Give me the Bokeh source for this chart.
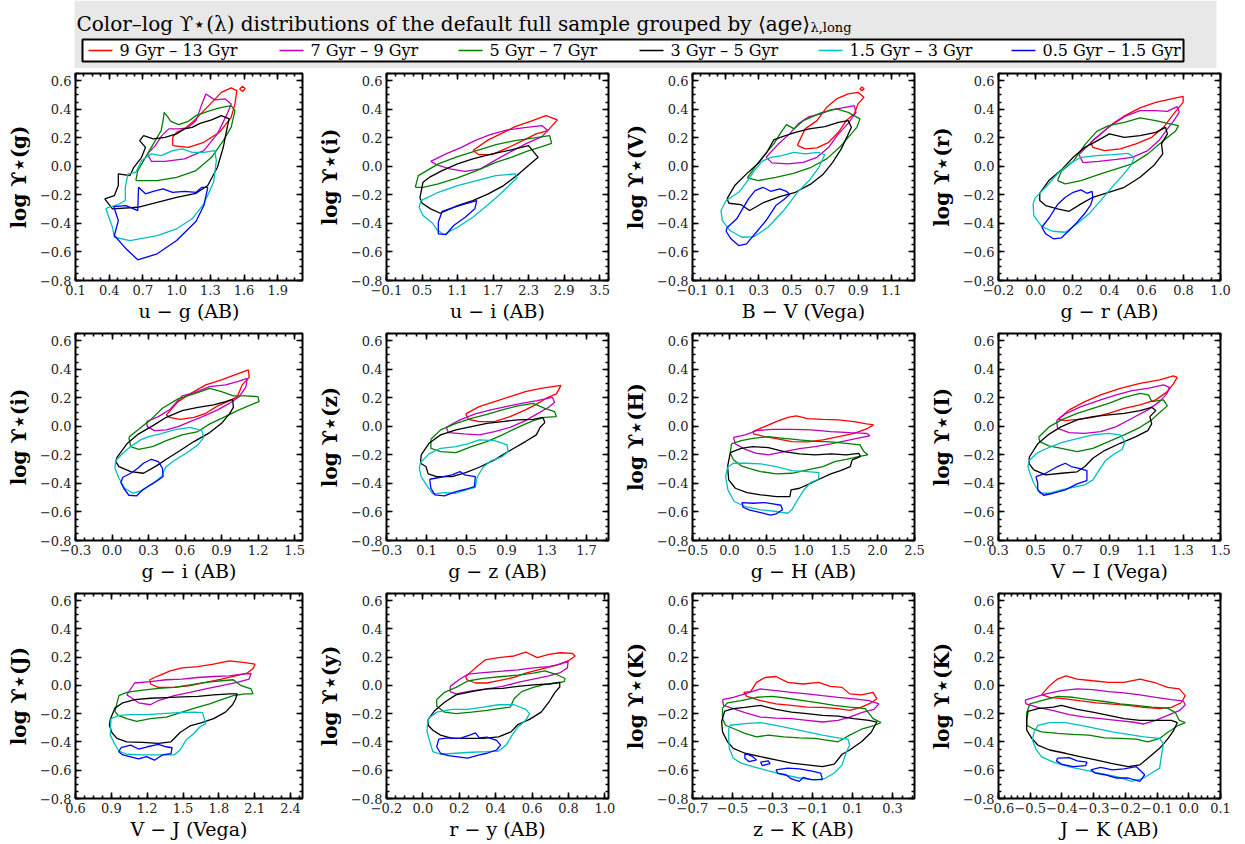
import numpy as np
from bokeh.plotting import figure
from bokeh.layouts import column, row
from bokeh.models import Range1d, FixedTicker, LinearAxis, CustomJSTickFormatter, ColumnDataSource
from bokeh.core.properties import value
from bokeh.embed import file_html
from bokeh.resources import INLINE

# ---------------- data ----------------
AGES = ["9 Gyr \u2013 13 Gyr", "7 Gyr \u2013 9 Gyr", "5 Gyr \u2013 7 Gyr",
        "3 Gyr \u2013 5 Gyr", "1.5 Gyr \u2013 3 Gyr", "0.5 Gyr \u2013 1.5 Gyr"]
COLORS = ["#ff0000", "#bf00bf", "#008000", "#000000", "#00bfbf", "#0000ff"]

TITLE_MAIN = "Color\u2013log \u03d2\u22c6(\u03bb) distributions of the default full sample grouped by \u27e8age\u27e9"
TITLE_SUB = "\u03bb,long"

Y_RANGE = (-0.8, 0.65)
Y_STEP = 0.2

PANEL_XLABELS = ["u \u2212 g (AB)", "u \u2212 i (AB)", "B \u2212 V (Vega)", "g \u2212 r (AB)",
                 "g \u2212 i (AB)", "g \u2212 z (AB)", "g \u2212 H (AB)", "V \u2212 I (Vega)",
                 "V \u2212 J (Vega)", "r \u2212 y (AB)", "z \u2212 K (AB)", "J \u2212 K (AB)"]
PANEL_BANDS = ["g", "i", "V", "r", "i", "z", "H", "I", "J", "y", "K", "K"]
PANEL_XRANGES = [(0.1, 2.12), (-0.1, 3.65), (-0.1, 1.24), (-0.2, 1.0),
                 (-0.3, 1.565), (-0.3, 1.92), (-0.5, 2.5), (0.3, 1.5),
                 (0.6, 2.5), (-0.2, 1.02), (-0.7, 0.41), (-0.6, 0.1)]
PANEL_XSTEPS = [0.3, 0.6, 0.2, 0.2, 0.3, 0.4, 0.5, 0.2, 0.3, 0.2, 0.2, 0.1]

# contours: one list per age group (same order as AGES), each a list of closed paths
C_UG = [
    [[(0.965,0.145),(1.104,0.133),(1.242,0.168),(1.381,0.238),(1.485,0.343),(1.519,0.437),(1.536,0.53),(1.485,0.549),(1.398,0.518),(1.329,0.46),(1.242,0.39),(1.156,0.32),(1.069,0.262),(1.0,0.238),(0.965,0.203)],
     [(1.56,0.54),(1.585,0.56),(1.61,0.545),(1.59,0.525)]],
    [[(0.74,0.087),(0.775,0.035),(0.896,0.035),(1.069,0.052),(1.242,0.11),(1.363,0.227),(1.45,0.367),(1.485,0.437),(1.433,0.472),(1.339,0.465),(1.26,0.507),(1.225,0.437),(1.173,0.32),(1.097,0.269),(1.017,0.262),(0.93,0.262),(0.868,0.215),(0.81,0.145)]],
    [[(0.637,-0.1),(0.827,-0.1),(1.0,-0.077),(1.173,-0.03),(1.311,0.063),(1.415,0.18),(1.485,0.273),(1.519,0.39),(1.485,0.425),(1.381,0.409),(1.277,0.385),(1.173,0.355),(1.104,0.315),(1.017,0.292),(0.948,0.315),(0.913,0.355),(0.889,0.378),(0.879,0.32),(0.862,0.25),(0.81,0.18),(0.758,0.11),(0.706,0.04),(0.654,-0.03)]],
    [[(0.36,-0.228),(0.429,-0.298),(0.654,-0.287),(0.827,-0.252),(1.0,-0.217),(1.173,-0.189),(1.277,-0.135),(1.363,-0.007),(1.415,0.133),(1.45,0.273),(1.467,0.332),(1.398,0.355),(1.311,0.325),(1.208,0.301),(1.138,0.273),(1.069,0.262),(1.0,0.227),(0.896,0.203),(0.792,0.192),(0.706,0.215),(0.671,0.18),(0.723,0.133),(0.688,0.063),(0.619,-0.007),(0.585,-0.065),(0.481,-0.053),(0.481,-0.135),(0.446,-0.205)]],
    [[(0.37,-0.298),(0.429,-0.427),(0.446,-0.497),(0.585,-0.52),(0.827,-0.485),(1.0,-0.438),(1.138,-0.368),(1.242,-0.263),(1.329,-0.112),(1.353,0.04),(1.339,0.11),(1.242,0.098),(1.138,0.098),(1.052,0.122),(0.965,0.11),(0.862,0.075),(0.775,0.087),(0.688,0.04),(0.637,-0.042),(0.567,-0.053),(0.543,-0.147),(0.543,-0.24),(0.481,-0.268),(0.394,-0.287)]],
    [[(0.44,-0.282),(0.481,-0.38),(0.446,-0.485),(0.55,-0.578),(0.654,-0.655),(0.827,-0.613),(1.0,-0.52),(1.173,-0.385),(1.242,-0.275),(1.277,-0.147),(1.225,-0.147),(1.173,-0.182),(1.069,-0.175),(0.965,-0.182),(0.879,-0.158),(0.792,-0.175),(0.723,-0.193),(0.661,-0.147),(0.654,-0.31),(0.55,-0.275)]],
]
C_UI = [
    [[(1.359,0.11),(1.619,0.185),(1.846,0.231),(2.072,0.278),(2.332,0.315),(2.591,0.355),(2.786,0.325),(2.624,0.25),(2.429,0.227),(2.202,0.18),(1.943,0.129),(1.683,0.082),(1.456,0.082)]],
    [[(0.646,0.035),(0.905,0.087),(1.165,0.133),(1.392,0.18),(1.651,0.222),(1.943,0.255),(2.267,0.273),(2.526,0.285),(2.624,0.25),(2.526,0.208),(2.267,0.161),(2.008,0.105),(1.748,0.045),(1.489,-0.018),(1.229,-0.035),(0.97,-0.018),(0.743,0.012)]],
    [[(0.386,-0.147),(0.438,-0.065),(0.581,-0.03),(0.775,0.017),(1.1,0.068),(1.424,0.11),(1.748,0.152),(2.072,0.18),(2.397,0.199),(2.656,0.215),(2.689,0.161),(2.526,0.138),(2.267,0.105),(2.008,0.063),(1.748,0.028),(1.424,-0.03),(1.1,-0.081),(0.775,-0.123),(0.516,-0.147)]],
    [[(0.464,-0.221),(0.516,-0.112),(0.646,-0.072),(0.84,-0.03),(1.1,0.017),(1.359,0.052),(1.683,0.087),(2.008,0.115),(2.3,0.145),(2.462,0.063),(2.332,0.017),(2.137,-0.053),(1.878,-0.135),(1.619,-0.193),(1.359,-0.24),(1.1,-0.275),(0.808,-0.329),(0.646,-0.298),(0.503,-0.259)]],
    [[(0.484,-0.24),(0.775,-0.182),(1.1,-0.135),(1.424,-0.1),(1.748,-0.065),(2.072,-0.053),(2.105,-0.081),(2.008,-0.119),(1.813,-0.198),(1.619,-0.268),(1.359,-0.357),(1.1,-0.427),(0.873,-0.478),(0.763,-0.45),(0.678,-0.399),(0.516,-0.345),(0.451,-0.287)]],
    [[(0.775,-0.392),(0.84,-0.315),(1.035,-0.287),(1.229,-0.263),(1.424,-0.24),(1.392,-0.298),(1.229,-0.357),(1.035,-0.415),(0.905,-0.478),(0.775,-0.473)]],
]
C_BV = [
    [[(0.533,0.147),(0.58,0.262),(0.651,0.32),(0.71,0.413),(0.769,0.472),(0.84,0.507),(0.899,0.518),(0.935,0.483),(0.899,0.437),(0.876,0.367),(0.828,0.32),(0.781,0.238),(0.722,0.168),(0.651,0.129),(0.58,0.122)],
     [(0.91,0.542),(0.923,0.556),(0.936,0.542),(0.923,0.53)]],
    [[(0.344,0.063),(0.415,0.152),(0.486,0.227),(0.538,0.297),(0.604,0.348),(0.675,0.367),(0.734,0.395),(0.805,0.409),(0.876,0.425),(0.887,0.378),(0.84,0.301),(0.781,0.227),(0.722,0.133),(0.651,0.063),(0.569,0.028),(0.474,0.017),(0.38,0.024)]],
    [[(0.231,-0.081),(0.273,-0.011),(0.325,0.068),(0.391,0.157),(0.434,0.238),(0.467,0.292),(0.514,0.262),(0.569,0.32),(0.675,0.374),(0.769,0.402),(0.84,0.378),(0.911,0.332),(0.892,0.273),(0.84,0.203),(0.788,0.133),(0.71,0.052),(0.616,-0.007),(0.509,-0.049),(0.403,-0.077),(0.297,-0.1)]],
    [[(0.108,-0.228),(0.155,-0.135),(0.226,-0.053),(0.297,0.021),(0.349,0.098),(0.391,0.185),(0.443,0.208),(0.521,0.238),(0.604,0.262),(0.699,0.278),(0.781,0.308),(0.84,0.32),(0.859,0.273),(0.836,0.215),(0.798,0.122),(0.746,0.028),(0.687,-0.058),(0.616,-0.123),(0.521,-0.182),(0.427,-0.212),(0.332,-0.252),(0.245,-0.31),(0.191,-0.268),(0.12,-0.259)]],
    [[(0.103,-0.24),(0.179,-0.182),(0.226,-0.112),(0.273,-0.03),(0.32,0.035),(0.372,0.063),(0.439,0.075),(0.51,0.098),(0.58,0.087),(0.656,0.098),(0.699,0.082),(0.663,-0.007),(0.604,-0.1),(0.533,-0.182),(0.45,-0.31),(0.356,-0.427),(0.273,-0.492),(0.198,-0.497),(0.127,-0.45),(0.08,-0.38),(0.072,-0.31)]],
    [[(0.108,-0.431),(0.167,-0.368),(0.202,-0.298),(0.238,-0.228),(0.278,-0.17),(0.325,-0.147),(0.372,-0.175),(0.427,-0.158),(0.467,-0.175),(0.486,-0.198),(0.45,-0.235),(0.403,-0.275),(0.344,-0.38),(0.285,-0.462),(0.226,-0.543),(0.179,-0.555),(0.132,-0.508),(0.103,-0.455)]],
]
C_GR = [
    [[(0.299,0.168),(0.352,0.227),(0.416,0.297),(0.484,0.355),(0.565,0.409),(0.65,0.448),(0.735,0.472),(0.798,0.49),(0.798,0.448),(0.773,0.409),(0.735,0.348),(0.692,0.273),(0.628,0.203),(0.543,0.157),(0.458,0.122),(0.373,0.11),(0.31,0.133)]],
    [[(0.235,0.082),(0.31,0.18),(0.395,0.273),(0.48,0.348),(0.565,0.39),(0.65,0.39),(0.713,0.385),(0.766,0.418),(0.777,0.378),(0.745,0.315),(0.709,0.255),(0.667,0.18),(0.607,0.11),(0.522,0.063),(0.437,0.049),(0.342,0.035),(0.257,0.026)]],
    [[(0.119,-0.1),(0.14,-0.035),(0.204,0.035),(0.267,0.152),(0.331,0.245),(0.395,0.285),(0.48,0.308),(0.565,0.339),(0.65,0.32),(0.713,0.301),(0.773,0.285),(0.756,0.245),(0.692,0.18),(0.607,0.087),(0.522,0.017),(0.437,-0.018),(0.352,-0.053),(0.246,-0.1),(0.161,-0.123)]],
    [[(0.023,-0.189),(0.072,-0.1),(0.14,-0.025),(0.204,0.063),(0.267,0.133),(0.335,0.18),(0.399,0.227),(0.48,0.203),(0.565,0.215),(0.65,0.238),(0.703,0.273),(0.713,0.227),(0.681,0.157),(0.688,0.087),(0.639,0.005),(0.565,-0.077),(0.48,-0.147),(0.395,-0.182),(0.31,-0.217),(0.246,-0.263),(0.182,-0.315),(0.119,-0.298),(0.055,-0.275),(0.023,-0.24)]],
    [[(-0.002,-0.221),(0.055,-0.147),(0.119,-0.053),(0.182,0.017),(0.246,0.063),(0.331,0.075),(0.416,0.082),(0.501,0.091),(0.533,0.059),(0.518,0.012),(0.475,-0.058),(0.416,-0.142),(0.352,-0.24),(0.289,-0.333),(0.225,-0.403),(0.161,-0.462),(0.093,-0.455),(0.034,-0.422),(-0.009,-0.345),(-0.013,-0.263)]],
    [[(0.034,-0.427),(0.076,-0.357),(0.119,-0.268),(0.161,-0.217),(0.204,-0.182),(0.246,-0.165),(0.278,-0.189),(0.306,-0.175),(0.31,-0.221),(0.299,-0.268),(0.267,-0.329),(0.225,-0.392),(0.182,-0.45),(0.14,-0.501),(0.097,-0.508),(0.055,-0.473)]],
]
C_GI = [
    [[(0.446,0.08),(0.543,0.173),(0.641,0.227),(0.77,0.29),(0.9,0.325),(1.03,0.367),(1.121,0.395),(1.127,0.343),(1.069,0.29),(1.03,0.208),(0.949,0.173),(0.868,0.143),(0.77,0.091),(0.673,0.063),(0.56,0.049),(0.472,0.063)]],
    [[(0.284,0.033),(0.381,0.068),(0.478,0.119),(0.576,0.213),(0.68,0.236),(0.803,0.278),(0.933,0.29),(1.03,0.313),(1.111,0.336),(1.101,0.278),(1.046,0.208),(0.965,0.161),(0.868,0.115),(0.744,0.068),(0.641,0.033),(0.543,-0.002),(0.446,-0.025),(0.349,-0.03),(0.29,-0.002)]],
    [[(0.138,-0.077),(0.219,-0.021),(0.316,0.045),(0.414,0.126),(0.543,0.192),(0.673,0.227),(0.803,0.266),(0.9,0.243),(0.997,0.213),(1.095,0.213),(1.199,0.208),(1.208,0.173),(1.16,0.157),(1.03,0.11),(0.9,0.056),(0.803,0.017),(0.706,-0.037),(0.576,-0.06),(0.446,-0.1),(0.333,-0.142),(0.219,-0.161),(0.154,-0.142)]],
    [[(0.041,-0.217),(0.122,-0.123),(0.219,-0.053),(0.333,0.003),(0.446,0.063),(0.576,0.11),(0.706,0.133),(0.835,0.15),(0.933,0.173),(0.991,0.189),(0.997,0.133),(0.965,0.087),(0.9,0.021),(0.803,-0.044),(0.673,-0.107),(0.56,-0.17),(0.446,-0.231),(0.365,-0.277),(0.258,-0.329),(0.154,-0.317),(0.057,-0.282),(0.031,-0.247)]],
    [[(0.031,-0.24),(0.089,-0.189),(0.154,-0.142),(0.235,-0.095),(0.3,-0.072),(0.397,-0.053),(0.511,-0.025),(0.641,-0.007),(0.738,-0.03),(0.754,-0.077),(0.706,-0.13),(0.608,-0.189),(0.511,-0.24),(0.44,-0.287),(0.407,-0.352),(0.333,-0.403),(0.251,-0.45),(0.17,-0.469),(0.105,-0.434),(0.057,-0.364),(0.024,-0.294)]],
    [[(0.089,-0.357),(0.154,-0.329),(0.212,-0.294),(0.258,-0.259),(0.323,-0.231),(0.381,-0.247),(0.414,-0.294),(0.42,-0.352),(0.375,-0.38),(0.316,-0.41),(0.251,-0.445),(0.203,-0.487),(0.138,-0.483),(0.096,-0.434),(0.073,-0.394)]],
]
C_GZ = [
    [[(0.492,0.087),(0.627,0.138),(0.781,0.173),(0.936,0.208),(1.09,0.243),(1.244,0.266),(1.36,0.278),(1.445,0.287),(1.399,0.227),(1.314,0.203),(1.206,0.157),(1.09,0.115),(0.936,0.068),(0.781,0.033),(0.627,0.033),(0.519,0.049)]],
    [[(0.298,-0.007),(0.434,0.045),(0.588,0.087),(0.742,0.115),(0.897,0.138),(1.051,0.161),(1.206,0.18),(1.36,0.203),(1.38,0.166),(1.322,0.133),(1.206,0.087),(1.09,0.04),(0.936,-0.007),(0.781,-0.037),(0.627,-0.06),(0.472,-0.053),(0.318,-0.044)]],
    [[(0.144,-0.091),(0.241,-0.025),(0.395,0.021),(0.549,0.056),(0.704,0.084),(0.858,0.115),(1.013,0.143),(1.167,0.161),(1.283,0.126),(1.38,0.103),(1.399,0.068),(1.283,0.063),(1.167,0.04),(1.013,-0.007),(0.858,-0.06),(0.704,-0.107),(0.549,-0.142),(0.395,-0.184),(0.241,-0.177),(0.144,-0.154)]],
    [[(0.047,-0.2),(0.125,-0.119),(0.241,-0.06),(0.395,-0.025),(0.549,-0.002),(0.704,0.021),(0.858,0.033),(1.013,0.045),(1.167,0.049),(1.264,0.063),(1.283,0.026),(1.237,-0.007),(1.198,-0.06),(1.09,-0.107),(0.974,-0.154),(0.878,-0.193),(0.781,-0.235),(0.627,-0.287),(0.492,-0.324),(0.356,-0.352),(0.202,-0.352),(0.117,-0.333),(0.094,-0.282),(0.04,-0.259)]],
    [[(0.04,-0.254),(0.125,-0.193),(0.241,-0.154),(0.395,-0.142),(0.511,-0.123),(0.627,-0.095),(0.781,-0.1),(0.905,-0.13),(0.916,-0.177),(0.858,-0.212),(0.75,-0.24),(0.665,-0.287),(0.607,-0.357),(0.588,-0.427),(0.492,-0.445),(0.395,-0.469),(0.279,-0.464),(0.163,-0.473),(0.105,-0.417),(0.047,-0.352),(0.028,-0.294)]],
    [[(0.132,-0.371),(0.241,-0.357),(0.356,-0.34),(0.434,-0.317),(0.48,-0.34),(0.588,-0.352),(0.58,-0.422),(0.492,-0.441),(0.395,-0.457),(0.279,-0.487),(0.183,-0.48),(0.144,-0.434)]],
]
C_GH = [
    [[(0.316,-0.037),(0.474,-0.002),(0.632,0.033),(0.789,0.063),(0.905,0.073),(1.053,0.054),(1.263,0.049),(1.474,0.045),(1.684,0.033),(1.853,0.017),(1.947,0.01),(1.868,-0.014),(1.684,-0.049),(1.474,-0.072),(1.263,-0.095),(1.053,-0.109),(0.842,-0.107),(0.632,-0.086),(0.474,-0.072),(0.326,-0.053)]],
    [[(0.053,-0.077),(0.211,-0.06),(0.368,-0.03),(0.579,-0.021),(0.842,-0.021),(1.105,-0.025),(1.368,-0.037),(1.632,-0.044),(1.853,-0.049),(1.895,-0.067),(1.789,-0.077),(1.579,-0.1),(1.368,-0.123),(1.158,-0.142),(0.947,-0.156),(0.737,-0.177),(0.526,-0.2),(0.368,-0.189),(0.211,-0.161),(0.079,-0.123)]],
    [[(0.026,-0.123),(0.158,-0.1),(0.316,-0.084),(0.526,-0.072),(0.737,-0.084),(0.947,-0.095),(1.158,-0.105),(1.368,-0.109),(1.579,-0.119),(1.763,-0.13),(1.816,-0.177),(1.868,-0.2),(1.737,-0.212),(1.579,-0.231),(1.421,-0.247),(1.263,-0.282),(1.053,-0.305),(0.842,-0.329),(0.632,-0.333),(0.421,-0.317),(0.263,-0.294),(0.158,-0.277),(0.053,-0.235),(0.011,-0.189)]],
    [[(0.011,-0.184),(0.158,-0.154),(0.316,-0.142),(0.526,-0.149),(0.737,-0.177),(0.947,-0.193),(1.158,-0.2),(1.368,-0.193),(1.579,-0.2),(1.747,-0.189),(1.768,-0.212),(1.658,-0.235),(1.632,-0.282),(1.5,-0.31),(1.368,-0.333),(1.211,-0.371),(1.079,-0.403),(0.947,-0.434),(0.832,-0.445),(0.816,-0.492),(0.632,-0.492),(0.421,-0.48),(0.237,-0.464),(0.079,-0.434),(-0.011,-0.375),(-0.026,-0.282)]],
    [[(-0.026,-0.287),(0.053,-0.259),(0.211,-0.259),(0.421,-0.263),(0.632,-0.282),(0.842,-0.31),(1.053,-0.317),(1.211,-0.324),(1.2,-0.371),(1.095,-0.394),(1.0,-0.45),(0.921,-0.515),(0.842,-0.585),(0.789,-0.609),(0.632,-0.597),(0.421,-0.585),(0.211,-0.562),(0.063,-0.527),(-0.021,-0.445),(-0.053,-0.352)]],
    [[(0.168,-0.534),(0.316,-0.539),(0.474,-0.534),(0.589,-0.543),(0.695,-0.553),(0.716,-0.585),(0.632,-0.613),(0.553,-0.623),(0.421,-0.604),(0.263,-0.585),(0.184,-0.567)]],
]
C_VI = [
    [[(0.623,0.049),(0.682,0.115),(0.767,0.173),(0.852,0.22),(0.958,0.266),(1.065,0.301),(1.171,0.325),(1.245,0.353),(1.266,0.343),(1.245,0.297),(1.213,0.243),(1.15,0.185),(1.065,0.15),(0.98,0.126),(0.895,0.091),(0.81,0.063),(0.725,0.049),(0.661,0.04)]],
    [[(0.614,0.04),(0.661,0.087),(0.746,0.138),(0.852,0.185),(0.937,0.22),(1.022,0.25),(1.107,0.266),(1.192,0.29),(1.224,0.273),(1.209,0.227),(1.171,0.173),(1.107,0.115),(1.022,0.056),(0.937,-0.002),(0.852,-0.037),(0.767,-0.049),(0.682,-0.044),(0.619,-0.014)]],
    [[(0.517,-0.077),(0.576,-0.002),(0.64,0.045),(0.725,0.091),(0.81,0.126),(0.895,0.161),(0.98,0.203),(1.065,0.231),(1.111,0.22),(1.128,0.173),(1.192,0.185),(1.213,0.143),(1.171,0.096),(1.128,0.045),(1.065,-0.007),(0.98,-0.06),(0.895,-0.107),(0.81,-0.154),(0.725,-0.177),(0.64,-0.154),(0.572,-0.137),(0.523,-0.107)]],
    [[(0.466,-0.217),(0.512,-0.123),(0.576,-0.053),(0.64,-0.002),(0.725,0.045),(0.81,0.068),(0.895,0.08),(0.98,0.091),(1.065,0.11),(1.128,0.133),(1.15,0.11),(1.118,0.068),(1.128,0.017),(1.107,-0.03),(1.043,-0.072),(0.958,-0.119),(0.873,-0.17),(0.81,-0.224),(0.767,-0.282),(0.725,-0.319),(0.64,-0.329),(0.555,-0.34),(0.491,-0.305),(0.466,-0.263)]],
    [[(0.466,-0.24),(0.512,-0.184),(0.576,-0.147),(0.64,-0.114),(0.725,-0.086),(0.81,-0.06),(0.895,-0.049),(0.958,-0.06),(0.984,-0.107),(0.969,-0.161),(0.927,-0.193),(0.878,-0.24),(0.842,-0.31),(0.81,-0.375),(0.767,-0.41),(0.704,-0.427),(0.64,-0.445),(0.576,-0.469),(0.523,-0.469),(0.491,-0.399),(0.47,-0.329),(0.459,-0.282)]],
    [[(0.502,-0.352),(0.555,-0.329),(0.619,-0.282),(0.661,-0.259),(0.693,-0.282),(0.735,-0.294),(0.778,-0.31),(0.778,-0.38),(0.725,-0.403),(0.661,-0.445),(0.597,-0.469),(0.544,-0.483),(0.512,-0.445),(0.512,-0.399)]],
]
C_VJ = [
    [[(1.221,0.04),(1.294,0.068),(1.393,0.103),(1.492,0.124),(1.624,0.133),(1.756,0.15),(1.888,0.173),(2.02,0.161),(2.103,0.15),(2.086,0.119),(2.037,0.087),(1.938,0.068),(1.822,0.045),(1.69,0.021),(1.558,-0.002),(1.426,-0.014),(1.294,-0.014),(1.227,0.01)]],
    [[(1.029,-0.067),(1.095,0.017),(1.227,0.026),(1.36,0.04),(1.492,0.045),(1.624,0.056),(1.756,0.063),(1.888,0.068),(1.994,0.08),(2.07,0.084),(2.053,0.045),(1.954,0.021),(1.822,-0.002),(1.69,-0.025),(1.558,-0.049),(1.426,-0.072),(1.294,-0.107),(1.227,-0.137),(1.128,-0.123),(1.062,-0.084)]],
    [[(0.93,-0.184),(0.963,-0.072),(1.029,-0.049),(1.128,-0.037),(1.294,-0.021),(1.426,-0.014),(1.558,0.003),(1.69,0.021),(1.822,0.033),(1.921,0.04),(1.987,-0.002),(2.07,-0.025),(2.086,-0.06),(2.02,-0.06),(1.921,-0.072),(1.822,-0.1),(1.723,-0.13),(1.624,-0.154),(1.492,-0.189),(1.36,-0.224),(1.227,-0.235),(1.112,-0.254),(1.029,-0.235),(0.957,-0.212)]],
    [[(0.891,-0.24),(0.93,-0.161),(0.996,-0.123),(1.095,-0.1),(1.227,-0.091),(1.36,-0.086),(1.492,-0.081),(1.624,-0.077),(1.756,-0.067),(1.888,-0.06),(1.954,-0.06),(1.938,-0.1),(1.914,-0.137),(1.855,-0.189),(1.756,-0.235),(1.657,-0.263),(1.558,-0.287),(1.475,-0.333),(1.399,-0.399),(1.294,-0.41),(1.161,-0.403),(1.029,-0.399),(0.947,-0.375),(0.904,-0.333),(0.884,-0.282)]],
    [[(0.897,-0.235),(0.963,-0.212),(1.062,-0.207),(1.194,-0.207),(1.327,-0.2),(1.459,-0.193),(1.591,-0.189),(1.663,-0.193),(1.69,-0.27),(1.64,-0.294),(1.591,-0.34),(1.525,-0.387),(1.475,-0.457),(1.426,-0.492),(1.294,-0.492),(1.161,-0.492),(1.029,-0.487),(0.963,-0.464),(0.93,-0.417),(0.891,-0.352)]],
    [[(0.98,-0.441),(1.062,-0.422),(1.128,-0.45),(1.201,-0.434),(1.294,-0.417),(1.36,-0.434),(1.409,-0.441),(1.399,-0.483),(1.327,-0.492),(1.261,-0.529),(1.194,-0.504),(1.128,-0.52),(1.062,-0.506),(0.996,-0.492),(0.963,-0.469)]],
]
C_RY = [
    [[(0.235,0.063),(0.289,0.124),(0.342,0.18),(0.416,0.196),(0.501,0.208),(0.565,0.236),(0.628,0.196),(0.692,0.22),(0.756,0.231),(0.82,0.227),(0.837,0.208),(0.798,0.173),(0.735,0.143),(0.65,0.115),(0.565,0.087),(0.501,0.056),(0.416,0.033),(0.352,0.017),(0.289,0.017),(0.242,0.04)]],
    [[(0.15,-0.007),(0.204,0.045),(0.25,0.08),(0.331,0.091),(0.437,0.101),(0.522,0.11),(0.607,0.124),(0.692,0.133),(0.756,0.15),(0.798,0.171),(0.794,0.124),(0.756,0.091),(0.692,0.068),(0.607,0.045),(0.522,0.021),(0.437,-0.007),(0.352,-0.025),(0.267,-0.039),(0.182,-0.06),(0.15,-0.044)]],
    [[(0.076,-0.1),(0.119,-0.049),(0.182,-0.014),(0.246,0.031),(0.331,0.049),(0.437,0.063),(0.522,0.073),(0.607,0.087),(0.671,0.103),(0.735,0.077),(0.781,0.049),(0.777,0.026),(0.735,0.017),(0.671,0.007),(0.607,-0.014),(0.543,-0.044),(0.501,-0.095),(0.48,-0.154),(0.416,-0.165),(0.352,-0.177),(0.267,-0.189),(0.182,-0.2),(0.119,-0.189),(0.076,-0.147)]],
    [[(0.029,-0.24),(0.066,-0.177),(0.119,-0.119),(0.182,-0.067),(0.267,-0.044),(0.352,-0.025),(0.437,-0.021),(0.522,-0.007),(0.607,0.003),(0.692,0.01),(0.752,0.021),(0.752,-0.011),(0.724,-0.053),(0.692,-0.119),(0.65,-0.189),(0.586,-0.24),(0.522,-0.277),(0.484,-0.329),(0.416,-0.364),(0.331,-0.375),(0.246,-0.375),(0.161,-0.375),(0.097,-0.352),(0.055,-0.317),(0.029,-0.282)]],
    [[(0.034,-0.231),(0.076,-0.189),(0.161,-0.17),(0.246,-0.17),(0.331,-0.154),(0.416,-0.137),(0.501,-0.137),(0.565,-0.17),(0.586,-0.2),(0.565,-0.247),(0.522,-0.294),(0.49,-0.352),(0.458,-0.422),(0.416,-0.464),(0.352,-0.469),(0.267,-0.473),(0.182,-0.48),(0.097,-0.487),(0.055,-0.469),(0.038,-0.399),(0.023,-0.329),(0.025,-0.273)]],
    [[(0.087,-0.38),(0.14,-0.371),(0.204,-0.375),(0.257,-0.352),(0.289,-0.336),(0.31,-0.371),(0.352,-0.366),(0.405,-0.389),(0.427,-0.422),(0.405,-0.457),(0.352,-0.48),(0.31,-0.492),(0.246,-0.515),(0.182,-0.504),(0.14,-0.497),(0.097,-0.48),(0.076,-0.434)]],
]
C_ZK = [
    [[(-0.444,-0.049),(-0.409,-0.044),(-0.38,0.021),(-0.337,0.056),(-0.283,0.063),(-0.224,0.021),(-0.147,0.01),(-0.069,0.021),(-0.011,-0.007),(0.048,-0.014),(0.086,-0.06),(0.145,-0.067),(0.203,-0.049),(0.222,-0.095),(0.193,-0.123),(0.145,-0.154),(0.086,-0.177),(0.028,-0.165),(-0.05,-0.156),(-0.127,-0.154),(-0.205,-0.142),(-0.283,-0.13),(-0.36,-0.107),(-0.428,-0.077)]],
    [[(-0.55,-0.1),(-0.496,-0.084),(-0.438,-0.06),(-0.36,-0.025),(-0.283,-0.037),(-0.205,-0.049),(-0.127,-0.06),(-0.05,-0.072),(0.028,-0.084),(0.106,-0.095),(0.183,-0.107),(0.232,-0.13),(0.207,-0.17),(0.145,-0.193),(0.086,-0.224),(0.028,-0.247),(-0.05,-0.259),(-0.127,-0.247),(-0.205,-0.235),(-0.283,-0.231),(-0.36,-0.224),(-0.438,-0.193),(-0.496,-0.165),(-0.545,-0.142)]],
    [[(-0.55,-0.161),(-0.525,-0.123),(-0.457,-0.107),(-0.38,-0.084),(-0.302,-0.077),(-0.224,-0.091),(-0.147,-0.107),(-0.069,-0.123),(0.009,-0.142),(0.086,-0.154),(0.164,-0.165),(0.203,-0.235),(0.242,-0.263),(0.203,-0.287),(0.145,-0.31),(0.086,-0.352),(0.028,-0.399),(-0.03,-0.387),(-0.088,-0.375),(-0.166,-0.371),(-0.244,-0.364),(-0.321,-0.352),(-0.38,-0.364),(-0.438,-0.34),(-0.496,-0.305),(-0.535,-0.282),(-0.55,-0.235)]],
    [[(-0.554,-0.254),(-0.539,-0.182),(-0.496,-0.165),(-0.438,-0.156),(-0.36,-0.142),(-0.283,-0.17),(-0.205,-0.189),(-0.127,-0.2),(-0.05,-0.212),(0.028,-0.217),(0.106,-0.235),(0.183,-0.247),(0.222,-0.259),(0.193,-0.333),(0.145,-0.399),(0.086,-0.457),(0.048,-0.487),(0.009,-0.557),(-0.05,-0.574),(-0.127,-0.562),(-0.205,-0.55),(-0.283,-0.527),(-0.36,-0.504),(-0.438,-0.48),(-0.496,-0.445),(-0.525,-0.399),(-0.55,-0.329)]],
    [[(-0.519,-0.31),(-0.512,-0.282),(-0.438,-0.27),(-0.36,-0.263),(-0.283,-0.282),(-0.205,-0.305),(-0.127,-0.329),(-0.05,-0.352),(0.028,-0.371),(0.077,-0.38),(0.086,-0.422),(0.067,-0.48),(0.048,-0.562),(0.009,-0.62),(-0.04,-0.66),(-0.088,-0.669),(-0.166,-0.655),(-0.244,-0.632),(-0.321,-0.604),(-0.399,-0.574),(-0.457,-0.55),(-0.496,-0.515),(-0.516,-0.445),(-0.519,-0.375)]],
    [[(-0.283,-0.597),(-0.224,-0.585),(-0.166,-0.59),(-0.108,-0.604),(-0.059,-0.62),(-0.05,-0.667),(-0.108,-0.667),(-0.147,-0.651),(-0.166,-0.679),(-0.205,-0.662),(-0.234,-0.632),(-0.273,-0.623)],
     [(-0.438,-0.48),(-0.399,-0.504),(-0.38,-0.527),(-0.418,-0.539),(-0.438,-0.515)],
     [(-0.36,-0.543),(-0.321,-0.534),(-0.312,-0.553),(-0.351,-0.567)]],
]
C_JK = [
    [[(-0.464,-0.065),(-0.439,-0.002),(-0.414,0.045),(-0.387,0.068),(-0.352,0.045),(-0.303,0.033),(-0.253,0.021),(-0.204,0.021),(-0.154,0.045),(-0.104,0.017),(-0.067,-0.014),(-0.03,-0.025),(-0.011,-0.072),(-0.024,-0.123),(-0.055,-0.156),(-0.092,-0.165),(-0.142,-0.156),(-0.191,-0.142),(-0.241,-0.133),(-0.29,-0.123),(-0.34,-0.109),(-0.389,-0.095),(-0.439,-0.084)]],
    [[(-0.516,-0.105),(-0.488,-0.084),(-0.451,-0.06),(-0.402,-0.037),(-0.352,-0.025),(-0.303,-0.03),(-0.253,-0.044),(-0.204,-0.053),(-0.154,-0.067),(-0.104,-0.084),(-0.055,-0.1),(-0.018,-0.109),(-0.011,-0.137),(-0.03,-0.179),(-0.067,-0.212),(-0.104,-0.247),(-0.142,-0.273),(-0.179,-0.259),(-0.228,-0.247),(-0.278,-0.235),(-0.327,-0.224),(-0.377,-0.207),(-0.427,-0.179),(-0.476,-0.156),(-0.513,-0.13)]],
    [[(-0.511,-0.193),(-0.501,-0.13),(-0.464,-0.107),(-0.414,-0.077),(-0.365,-0.084),(-0.315,-0.1),(-0.265,-0.114),(-0.216,-0.13),(-0.166,-0.142),(-0.117,-0.154),(-0.067,-0.161),(-0.042,-0.193),(-0.03,-0.247),(-0.011,-0.263),(-0.036,-0.287),(-0.067,-0.333),(-0.092,-0.375),(-0.129,-0.399),(-0.166,-0.38),(-0.216,-0.375),(-0.265,-0.371),(-0.315,-0.352),(-0.365,-0.347),(-0.414,-0.34),(-0.464,-0.329),(-0.488,-0.31),(-0.511,-0.282)]],
    [[(-0.511,-0.24),(-0.507,-0.184),(-0.476,-0.165),(-0.427,-0.154),(-0.402,-0.142),(-0.352,-0.17),(-0.303,-0.189),(-0.253,-0.212),(-0.204,-0.235),(-0.154,-0.247),(-0.104,-0.247),(-0.055,-0.247),(-0.036,-0.263),(-0.049,-0.324),(-0.067,-0.38),(-0.092,-0.445),(-0.117,-0.492),(-0.154,-0.562),(-0.191,-0.574),(-0.241,-0.553),(-0.29,-0.529),(-0.34,-0.506),(-0.389,-0.48),(-0.439,-0.457),(-0.476,-0.422),(-0.495,-0.375),(-0.511,-0.317)]],
    [[(-0.488,-0.333),(-0.476,-0.282),(-0.439,-0.263),(-0.389,-0.263),(-0.34,-0.282),(-0.29,-0.305),(-0.241,-0.329),(-0.191,-0.347),(-0.142,-0.364),(-0.092,-0.375),(-0.08,-0.413),(-0.086,-0.492),(-0.092,-0.585),(-0.117,-0.62),(-0.142,-0.655),(-0.179,-0.679),(-0.228,-0.646),(-0.278,-0.623),(-0.327,-0.599),(-0.377,-0.576),(-0.427,-0.543),(-0.464,-0.506),(-0.482,-0.45),(-0.493,-0.387)]],
    [[(-0.414,-0.515),(-0.377,-0.511),(-0.352,-0.534),(-0.321,-0.543),(-0.325,-0.567),(-0.365,-0.574),(-0.402,-0.557),(-0.417,-0.534)],
     [(-0.309,-0.597),(-0.278,-0.58),(-0.241,-0.597),(-0.204,-0.59),(-0.166,-0.574),(-0.139,-0.632),(-0.154,-0.679),(-0.191,-0.655),(-0.228,-0.655),(-0.265,-0.632),(-0.296,-0.62)]],
]
CONTOURS = [C_UG, C_UI, C_BV, C_GR, C_GI, C_GZ, C_GH, C_VI, C_VJ, C_RY, C_ZK, C_JK]

# ---------------- styling / layout ----------------
FONT = "DejaVu Serif"
FRAME_W = 227
FRAME_H = 207
COL_LEFT = [75, 67, 67, 67]          # left border of each column cell
COL_RIGHT = [12, 12, 12, 20]         # right border of each column cell
ROW_TOP = 5
ROW_BOTTOM = [48, 48, 42]
HEADER_H = 68
HEADER_W = sum(COL_LEFT) + sum(COL_RIGHT) + 4 * FRAME_W

MAJOR_FMT = CustomJSTickFormatter(code="""
var s = Math.abs(tick) < 1e-9 ? '0.0' : tick.toFixed(1);
return s.replace('-', '\\u2212');
""")
EMPTY_FMT = CustomJSTickFormatter(code="return '';")


def n_minor(step):
    m = round(step / 10 ** np.floor(np.log10(step)), 6)
    return 5 if m in (1.0, 5.0) else 4


def make_ticker(lo, hi, step):
    n = int(np.floor((hi - lo) / step + 1e-6))
    major = [round(lo + i * step, 6) for i in range(n + 1)]
    ms = step / n_minor(step)
    nm = int(np.floor((hi - lo) / ms + 1e-6))
    minor = [round(lo + i * ms, 6) for i in range(nm + 1)]
    return FixedTicker(ticks=major, minor_ticks=minor)


def style_axis(ax, show_labels):
    ax.axis_line_color = None
    ax.major_tick_in = 6
    ax.major_tick_out = 0
    ax.minor_tick_in = 3
    ax.minor_tick_out = 0
    ax.major_tick_line_width = 1.6
    ax.minor_tick_line_width = 1.6
    ax.major_tick_line_color = "black"
    ax.minor_tick_line_color = "black"
    if show_labels:
        ax.formatter = MAJOR_FMT
        ax.major_label_text_font = FONT
        ax.major_label_text_font_size = "13px"
        ax.major_label_text_color = "#222222"
        ax.major_label_standoff = 4
        ax.axis_label_text_font = FONT
        ax.axis_label_text_color = "black"
    else:
        ax.formatter = EMPTY_FMT
        ax.major_label_text_font_size = "0px"
        ax.major_label_standoff = 0


def make_panel(i):
    r, c = i // 4, i % 4
    xr = PANEL_XRANGES[i]
    p = figure(width=COL_LEFT[c] + FRAME_W + COL_RIGHT[c],
               height=ROW_TOP + FRAME_H + ROW_BOTTOM[r],
               x_range=Range1d(*xr), y_range=Range1d(*Y_RANGE),
               output_backend="svg", toolbar_location=None,
               min_border_left=COL_LEFT[c], min_border_right=COL_RIGHT[c],
               min_border_top=ROW_TOP, min_border_bottom=ROW_BOTTOM[r],
               x_axis_label=PANEL_XLABELS[i],
               y_axis_label="log \u03d2\u22c6(" + PANEL_BANDS[i] + ")")
    p.grid.visible = False
    p.outline_line_color = "black"
    p.outline_line_width = 2
    xt = make_ticker(xr[0], xr[1], PANEL_XSTEPS[i])
    yt = make_ticker(Y_RANGE[0], Y_RANGE[1], Y_STEP)
    p.xaxis.ticker = xt
    p.yaxis.ticker = yt
    for ax in p.xaxis:
        style_axis(ax, True)
        ax.axis_label_standoff = 2
        ax.axis_label_text_font_size = "19px"
        ax.axis_label_text_font_style = "normal"
    for ax in p.yaxis:
        style_axis(ax, True)
        ax.axis_label_standoff = 6
        ax.axis_label_text_font_size = "20px"
        ax.axis_label_text_font_style = "bold"
    top = LinearAxis(ticker=xt)
    right = LinearAxis(ticker=yt)
    style_axis(top, False)
    style_axis(right, False)
    p.add_layout(top, "above")
    p.add_layout(right, "right")

    xs, ys, cs = [], [], []
    for k, paths in enumerate(CONTOURS[i]):
        for path in paths:
            xs.append([pt[0] for pt in path] + [path[0][0]])
            ys.append([pt[1] for pt in path] + [path[0][1]])
            cs.append(COLORS[k])
    src = ColumnDataSource(dict(xs=xs, ys=ys, color=cs))
    p.multi_line(xs="xs", ys="ys", line_color="color", line_width=1.3, source=src)
    return p


# header: grey band with title and legend (pixel coordinates, y downward)
hdr = figure(width=HEADER_W, height=HEADER_H,
             x_range=Range1d(0, HEADER_W), y_range=Range1d(HEADER_H, 0),
             output_backend="svg", toolbar_location=None, min_border=0,
             x_axis_location=None, y_axis_location=None)
hdr.grid.visible = False
hdr.outline_line_color = None
hdr.quad(left=[74], right=[1216], top=[0], bottom=[HEADER_H], fill_color="#e8e8e8", line_color=None)
hdr.text(x=[76], y=[23], text=[TITLE_MAIN], text_font=value(FONT), text_font_size="20px",
         text_baseline="alphabetic", text_align="left", text_color="black")
hdr.text(x=[810], y=[27], text=[TITLE_SUB], text_font=value(FONT), text_font_size="13px",
         text_baseline="alphabetic", text_align="left", text_color="black")
hdr.quad(left=[82], right=[1183], top=[39], bottom=[61], fill_color="white",
         line_color="black", line_width=2)
LEG_X = [88, 279, 458, 639, 818, 1011]
hdr.segment(x0=LEG_X, y0=[50] * 6, x1=[v + 24 for v in LEG_X], y1=[50] * 6,
            line_color=COLORS, line_width=1.5)
hdr.text(x=[v + 31 for v in LEG_X], y=[50] * 6, text=AGES, text_font=value(FONT),
         text_font_size="16px", text_baseline="middle", text_align="left", text_color="black")

panels = [make_panel(i) for i in range(12)]
layout = column(hdr,
                row(*panels[0:4]),
                row(*panels[4:8]),
                row(*panels[8:12]))

open("out.html", "w").write(file_html(layout, INLINE, title="Color - log M/L distributions"))
